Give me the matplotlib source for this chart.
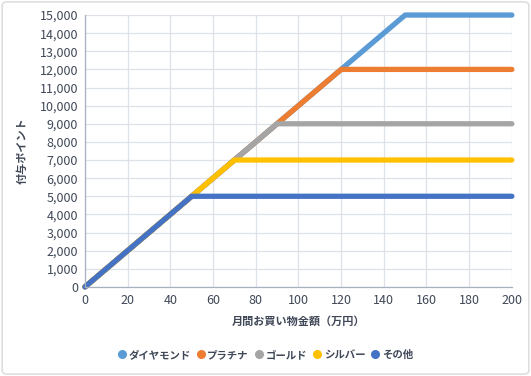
import matplotlib.pyplot as plt
from matplotlib.patches import FancyBboxPatch
from matplotlib.lines import Line2D

plt.rcParams['font.family'] = ['Noto Sans CJK JP', 'DejaVu Sans']

# データ
ranks = ['ダイヤモンド', 'プラチナ', 'ゴールド', 'シルバー', 'その他']
colors = ['#5B9BD5', '#ED7D31', '#A5A5A5', '#FFC000', '#4472C4']
x_dia = [0, 150, 200]
y_dia = [0, 15000, 15000]
x_pla = [0, 120, 200]
y_pla = [0, 12000, 12000]
x_gold = [0, 90, 200]
y_gold = [0, 9000, 9000]
x_sil = [0, 70, 200]
y_sil = [0, 7000, 7000]
x_oth = [0, 50, 200]
y_oth = [0, 5000, 5000]
series = [(x_dia, y_dia), (x_pla, y_pla), (x_gold, y_gold), (x_sil, y_sil), (x_oth, y_oth)]

fig = plt.figure(figsize=(5.31, 3.76), dpi=100)
border = FancyBboxPatch((0.004, 0.005), 0.992, 0.99, boxstyle='round,pad=0,rounding_size=0.01',
                        transform=fig.transFigure, fill=False, edgecolor='#d9d9d9', lw=1)
fig.patches.append(border)

ax = fig.add_axes([0.160, 0.237, 0.804, 0.723])
for (xs, ys), c in zip(series, colors):
    ax.plot(xs, ys, color=c, lw=3.8, solid_capstyle='round', solid_joinstyle='round', clip_on=False)

tick_color = '#404858'
ax.set_xlim(0, 200)
ax.set_ylim(0, 15000)
ax.set_xticks(range(0, 201, 20))
ax.set_yticks(range(0, 15001, 1000))
ax.set_yticklabels([f'{v:,}' for v in range(0, 15001, 1000)])
ax.tick_params(length=0, labelsize=9, colors=tick_color, pad=5)
ax.grid(color='#dde1e8', lw=0.9)
ax.set_axisbelow(True)
for s in ['top', 'right']:
    ax.spines[s].set_visible(False)
for s in ['left', 'bottom']:
    ax.spines[s].set_color('#a8b0bf')
    ax.spines[s].set_linewidth(0.9)

ax.set_xlabel('月間お買い物金額（万円）', fontsize=8, fontweight='bold', color=tick_color, labelpad=6)
ax.set_ylabel('付与ポイント', fontsize=8, fontweight='bold', color=tick_color, labelpad=8)

handles = [Line2D([], [], marker='o', ls='', color=c, markersize=5.5) for c in colors]
fig.legend(handles, ranks, loc='center', bbox_to_anchor=(0.5, 0.056), ncol=5, frameon=False,
           handlelength=0.7, handletextpad=0.3, columnspacing=0.6, labelcolor=tick_color,
           prop={'weight': 'bold', 'size': 7.5})

fig.savefig('out.png', dpi=100)
